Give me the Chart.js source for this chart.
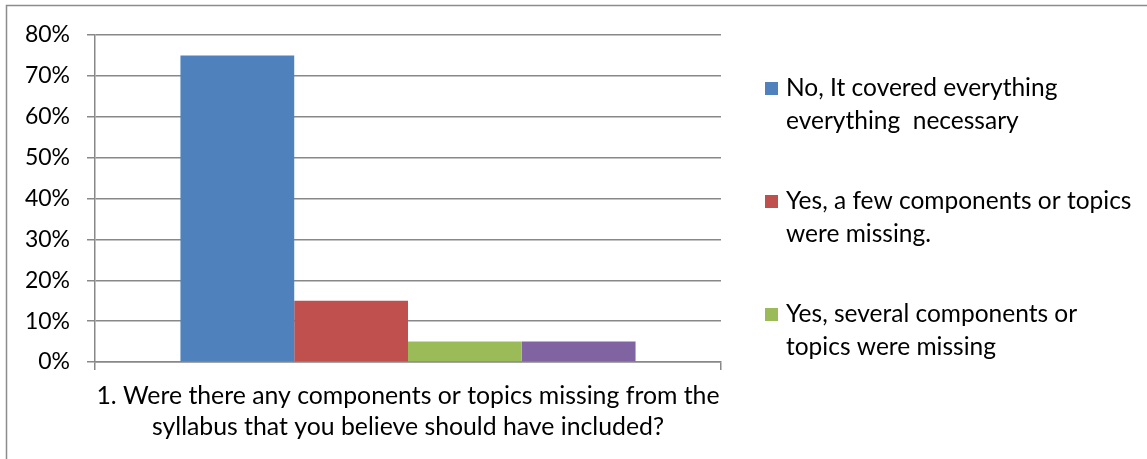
<!DOCTYPE html>
<html>
<head>
<meta charset="utf-8">
<script src="https://cdn.jsdelivr.net/npm/chart.js@4.4.0/dist/chart.umd.min.js"></script>
<style>
  html, body { margin: 0; padding: 0; background: #fff; }
  #wrap { position: relative; width: 1147px; height: 459px; }
</style>
</head>
<body>
<div id="wrap"><canvas id="myChart" width="1147" height="459"></canvas></div>
<script>
/***** data *****/
var categories = [["1. Were there any components or topics missing from the", "syllabus that you believe should have included?"]];
var seriesNames = [
    "No, It covered everything everything  necessary",
    "Yes, a few components or topics were missing.",
    "Yes, several components or topics were missing",
    "Other"
];
// how the legend text wraps in the picture (4th entry is cut off there)
var legendLines = [
    ["No, It covered everything", "everything  necessary"],
    ["Yes, a few components or topics", "were missing."],
    ["Yes, several components or", "topics were missing"]
];
var noValues = [75];
var fewValues = [15];
var severalValues = [5];
var otherValues = [5];
var yTicks = [0, 10, 20, 30, 40, 50, 60, 70, 80];
var colors = ["#4F81BD", "#C0504D", "#9BBB59", "#8064A2"];

var FONT = "Lato, 'Open Sans', sans-serif";

// outer frame + legend drawn on the canvas
var framePlugin = {
    id: "frame",
    afterDraw: function(chart) {
        var ctx = chart.ctx;
        ctx.save();
        ctx.strokeStyle = "#8c8c8c";
        ctx.lineWidth = 1.5;
        ctx.strokeRect(6.5, 5.5, 1300, 600);

        ctx.font = "24.5px " + FONT;
        ctx.textBaseline = "middle";
        ctx.fillStyle = "#000";
        var top = 88, gap = 113, lineH = 33;
        for (var i = 0; i < legendLines.length; i++) {
            var y = top + i * gap;
            ctx.fillStyle = colors[i];
            ctx.fillRect(765, y - 6, 13, 13);
            ctx.fillStyle = "#000";
            for (var j = 0; j < legendLines[i].length; j++) {
                ctx.fillText(legendLines[i][j], 786, y + j * lineH);
            }
        }
        ctx.restore();
    }
};

var data = {
    labels: categories,
    datasets: [
        { label: seriesNames[0], data: noValues, backgroundColor: colors[0] },
        { label: seriesNames[1], data: fewValues, backgroundColor: colors[1] },
        { label: seriesNames[2], data: severalValues, backgroundColor: colors[2] },
        { label: seriesNames[3], data: otherValues, backgroundColor: colors[3] }
    ]
};

var myChart = new Chart(document.getElementById("myChart"), {
    type: "bar",
    data: data,
    options: {
        responsive: false,
        animation: false,
        events: [],
        layout: { padding: { left: 0, right: 426, top: 35, bottom: 0 } },
        datasets: { bar: { barPercentage: 1.0, categoryPercentage: 0.727 } },
        plugins: {
            legend: { display: false },
            tooltip: { enabled: false }
        },
        scales: {
            x: {
                afterFit: function(s) { s.height = 97; },
                grid: {
                    offset: true,
                    drawOnChartArea: false,
                    drawTicks: true,
                    tickLength: 8,
                    color: "#888888",
                    lineWidth: 1.5
                },
                border: { color: "#888888", width: 1.5 },
                ticks: {
                    color: "#000",
                    font: { family: FONT, size: 24.8, lineHeight: 1.25 },
                    padding: 11,
                    maxRotation: 0
                }
            },
            y: {
                min: 0,
                max: 80,
                afterFit: function(s) { s.width = 95; },
                afterBuildTicks: function(s) {
                    s.ticks = yTicks.map(function(v) { return { value: v }; });
                },
                grid: {
                    color: "#888888",
                    lineWidth: 1.5,
                    tickLength: 8
                },
                border: { color: "#888888", width: 1.5 },
                ticks: {
                    color: "#000",
                    font: { family: FONT, size: 23 },
                    padding: 17,
                    callback: function(v) { return v + "%"; }
                }
            }
        }
    },
    plugins: [framePlugin]
});
</script>
</body>
</html>
